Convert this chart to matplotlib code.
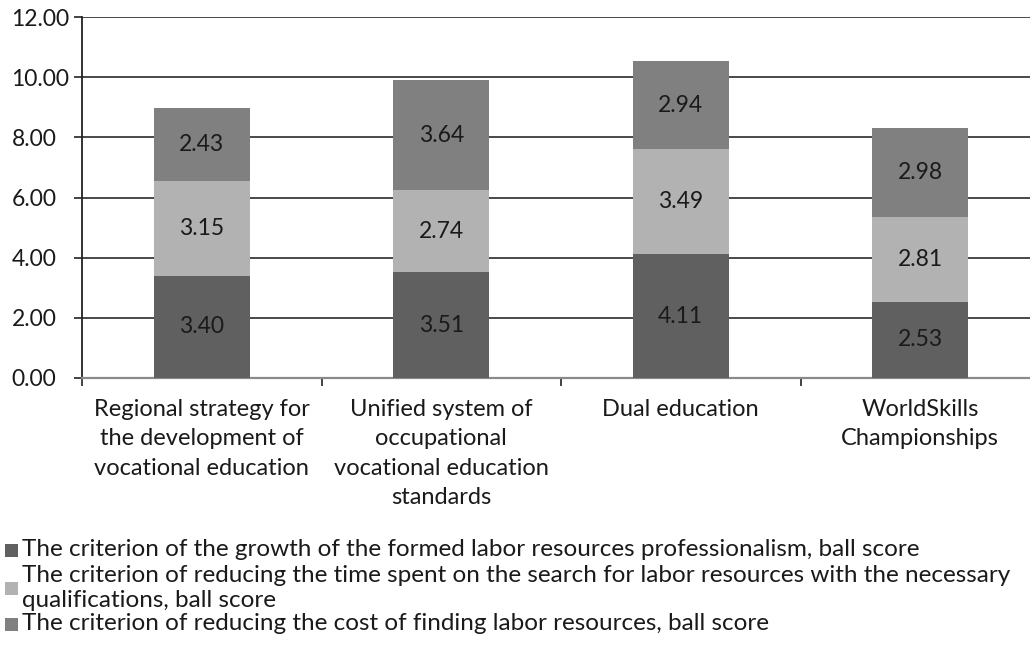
import matplotlib
matplotlib.use("Agg")
import matplotlib.pyplot as plt
from matplotlib.patches import Rectangle

categories = [
    "Regional strategy for\nthe development of\nvocational education",
    "Unified system of\noccupational\nvocational education\nstandards",
    "Dual education",
    "WorldSkills\nChampionships",
]
growth = [3.40, 3.51, 4.11, 2.53]
time_reduction = [3.15, 2.74, 3.49, 2.81]
cost_reduction = [2.43, 3.64, 2.94, 2.98]
series_names = [
    "The criterion of the growth of the formed labor resources professionalism, ball score",
    "The criterion of reducing the time spent on the search for labor resources with the necessary\nqualifications, ball score",
    "The criterion of reducing the cost of finding labor resources, ball score",
]
series = [growth, time_reduction, cost_reduction]
colors = ["#606060", "#b2b2b2", "#808080"]
yticks = [0, 2, 4, 6, 8, 10, 12]

plt.rcParams['font.family'] = ['Lato', 'DejaVu Sans']
W, H = 1030, 661
fig = plt.figure(figsize=(W / 100, H / 100), dpi=100)
left, right, top, bottom = 82, 1040, 17, 378
ax = fig.add_axes([left / W, 1 - bottom / H, (right - left) / W, (bottom - top) / H])

x = list(range(len(categories)))
base = [0.0] * len(categories)
for vals, col in zip(series, colors):
    ax.bar(x, vals, width=0.4, bottom=base, color=col, zorder=3)
    for xi, b, v in zip(x, base, vals):
        ax.text(xi, b + v / 2, f"{v:.2f}", ha='center', va='center',
                fontsize=16.5, color='#1a1a1a', zorder=4)
    base = [b + v for b, v in zip(base, vals)]

ax.set_xlim(-0.5, 3.5)
ax.set_ylim(0, 12)
ax.set_yticks(yticks)
ax.set_yticklabels([f"{t:.2f}" for t in yticks], fontsize=16.5, color='#1a1a1a')
for lab in ax.get_yticklabels():
    lab.set_horizontalalignment('left')
for t in yticks[1:]:
    ax.axhline(t, color='#2a2a2a', lw=1.2, zorder=1)

ax.set_xticks([-0.5, 0.5, 1.5, 2.5])
ax.set_xticklabels([])
ax.set_xticks(x, minor=True)
ax.set_xticklabels(categories, minor=True, fontsize=17, color='#1a1a1a', linespacing=1.5, va='top')
ax.tick_params(axis='x', which='minor', length=0, pad=15)
ax.tick_params(axis='x', which='major', length=5.5, width=1.2, color='#222222', direction='out')
ax.tick_params(axis='y', length=5.8, width=1.2, color='#222222', pad=45)

for s in ['top', 'right']:
    ax.spines[s].set_visible(False)
ax.spines['left'].set_color('#222222')
ax.spines['left'].set_linewidth(1.3)
ax.spines['bottom'].set_color('#8a8a8a')
ax.spines['bottom'].set_linewidth(1.6)

# legend
leg_items = [(550, 550), (588, 588), (624, 624)]
for (sq_y, txt_y), name, col in zip(leg_items, series_names, colors):
    fig.add_artist(Rectangle((5 / W, 1 - (sq_y + 6.5) / H), 13 / W, 13 / H,
                             transform=fig.transFigure, facecolor=col, edgecolor='none'))
    fig.text(22 / W, 1 - txt_y / H, name, ha='left', va='center', fontsize=17.5,
             color='#1a1a1a', linespacing=1.25)

fig.savefig("out.png", dpi=100)
